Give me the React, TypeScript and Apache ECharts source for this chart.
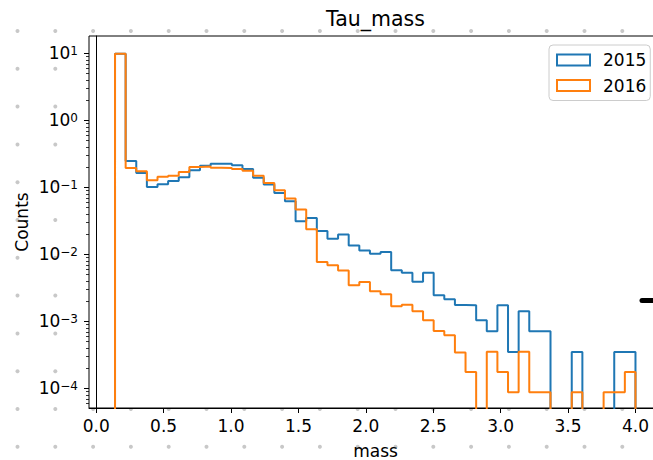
import React, { useEffect, useRef } from 'react';
import * as echarts from 'echarts';

// Histogram binning (shared by both years)
const BIN_MIN = 0.1396;
const BIN_MAX = 4.0;
const N_BINS = 49;

// Normalised counts per bin
const counts2015 = [
  9.8, 0.247, 0.164, 0.101, 0.111, 0.124, 0.141, 0.18, 0.21, 0.225,
  0.225, 0.213, 0.188, 0.139, 0.11, 0.082, 0.0618, 0.0311, 0.0349, 0.0223,
  0.0171, 0.0197, 0.0135, 0.0114, 0.0102, 0.0108, 0.0058, 0.0053, 0.0039, 0.0053,
  0.00244, 0.00213, 0.00175, 0.00173, 0.00104, 0.00071, 0.00173, 0.000347, 0.00141, 0.00071,
  0.00071, 0, 0, 0.000347, 0, 0, 0, 0.000347, 0.000347,
];
const counts2016 = [
  9.8, 0.194, 0.173, 0.127, 0.143, 0.148, 0.169, 0.201, 0.205, 0.195,
  0.194, 0.188, 0.177, 0.148, 0.116, 0.09, 0.0678, 0.0465, 0.0236, 0.00767,
  0.00685, 0.00571, 0.00344, 0.00386, 0.00281, 0.00253, 0.00167, 0.00177, 0.00141, 0.00104,
  0.000718, 0.000618, 0.000341, 0.000175, 0, 0.00035, 0.000175, 0.0000875, 0.00035, 0.0000875,
  0.0000875, 0, 0, 0.0000875, 0, 0, 0.0000875, 0.0000875, 0.000175,
];

const SERIES_NAMES = ['2015', '2016'];
const SERIES_COLORS = ['#1f77b4', '#ff7f0e'];

const X_TICKS = [0, 0.5, 1.0, 1.5, 2.0, 2.5, 3.0, 3.5, 4.0];
const Y_MAJOR_EXP = [-4, -3, -2, -1, 0, 1];
const Y_MINOR_MULT = [2, 3, 4, 5, 6, 7, 8, 9];

const X_MIN = -0.0534;
const X_MAX = 4.193;
const Y_MIN = 5.08e-5;
const Y_MAX = 18.1;
const FLOOR = 1e-9;

const FONT = 'DejaVu Sans';
const FS = 17;

function stepPath(counts: number[]) {
  const w = (BIN_MAX - BIN_MIN) / N_BINS;
  const pts: number[][] = [[BIN_MIN, FLOOR]];
  counts.forEach((c, i) => {
    const v = c > 0 ? c : FLOOR;
    pts.push([BIN_MIN + i * w, v]);
    pts.push([BIN_MIN + (i + 1) * w, v]);
  });
  pts.push([BIN_MAX, FLOOR]);
  return pts;
}

function yTickData() {
  const out: number[][] = [];
  Y_MAJOR_EXP.forEach((e) => out.push([X_MIN, Math.pow(10, e), 5]));
  for (let e = -5; e <= 1; e++) {
    Y_MINOR_MULT.forEach((m) => {
      const v = m * Math.pow(10, e);
      if (v >= Y_MIN && v <= Y_MAX) out.push([X_MIN, v, 3]);
    });
  }
  return out;
}

export default function App() {
  const ref = useRef<HTMLDivElement>(null);
  useEffect(() => {
    if (!ref.current) return;
    const chart = echarts.init(ref.current, undefined, { renderer: 'svg' });

    const dots: any[] = [];
    for (let i = 0; i < 18; i++) {
      for (let j = 0; j < 12; j++) {
        dots.push({
          type: 'circle', z: -10, silent: true,
          shape: { cx: 17.5 + 37.8 * i, cy: 31 + 37.8 * j, r: 2 },
          style: { fill: '#c8c8c8' },
        });
      }
    }

    const option: any = {
      animation: false,
      grid: {
        left: 89, top: 36, right: 18.5, bottom: 52,
        show: true, backgroundColor: '#ffffff', borderColor: '#000', borderWidth: 1,
        z: 0,
      },
      xAxis: {
        type: 'value', min: X_MIN, max: X_MAX, splitNumber: 8,
        splitLine: { show: false },
        axisLine: { show: true, lineStyle: { color: '#000', width: 1 } },
        axisTick: { show: true, length: 5, lineStyle: { color: '#000', width: 1 }, customValues: X_TICKS },
        axisLabel: {
          customValues: X_TICKS, formatter: (v: number) => v.toFixed(1),
          fontFamily: FONT, fontSize: FS, color: '#000', margin: 9,
        },
      },
      yAxis: {
        type: 'log', logBase: 10, min: Y_MIN, max: Y_MAX,
        splitLine: { show: false },
        axisLine: { show: true, lineStyle: { color: '#000', width: 1 } },
        axisTick: { show: false },
        axisLabel: {
          margin: 11,
          formatter: (v: number) => {
            const l = Math.log10(v);
            const e = Math.round(l);
            if (Math.abs(l - e) > 1e-6) return '';
            const s = e < 0 ? '\u2212' + -e : String(e);
            return `{b|10}{s|${s}}`;
          },
          rich: {
            b: { fontFamily: FONT, fontSize: FS, lineHeight: FS, color: '#000', verticalAlign: 'bottom' },
            s: { fontFamily: FONT, fontSize: 12, lineHeight: 12, color: '#000', verticalAlign: 'top', padding: [0, 0, 8, 0] },
          },
        },
      },
      legend: {
        orient: 'vertical', left: 549, top: 45,
        icon: 'rect', itemWidth: 33, itemHeight: 11, itemGap: 8.5,
        padding: [6.5, 4, 6.5, 7],
        backgroundColor: 'rgba(255,255,255,0.8)', borderColor: '#cccccc', borderWidth: 1, borderRadius: 4,
        textStyle: { fontFamily: FONT, fontSize: FS, color: '#000', padding: [0, 0, 0, 8] },
        data: SERIES_NAMES.map((n, i) => ({
          name: n,
          itemStyle: { color: 'rgba(0,0,0,0)', borderColor: SERIES_COLORS[i], borderWidth: 2 },
        })),
        z: 20,
      },
      series: [
        ...[counts2015, counts2016].map((c, i) => ({
          type: 'line', name: SERIES_NAMES[i], data: stepPath(c),
          showSymbol: false, symbol: 'none', clip: true, silent: true,
          lineStyle: { color: SERIES_COLORS[i], width: 2 },
          itemStyle: { color: SERIES_COLORS[i] },
          z: 3 + i,
        })),
        {
          type: 'custom', name: 'yticks', silent: true, clip: false, z: 6,
          data: yTickData(),
          encode: { x: 0, y: 1 },
          renderItem: (_p: any, api: any) => {
            const p = api.coord([api.value(0), api.value(1)]);
            const len = api.value(2);
            const y = Math.round(p[1]) + 0.5;
            return {
              type: 'line',
              shape: { x1: p[0] - len, y1: y, x2: p[0], y2: y },
              style: { stroke: '#000', lineWidth: len > 4 ? 1 : 0.8 },
            };
          },
        },
      ],
      graphic: {
        elements: [
          ...dots,
          {
            type: 'text', x: 375.5, y: 19, silent: true,
            style: { text: 'Tau_mass', fontFamily: FONT, fontSize: 20.5, fill: '#000', textAlign: 'center', textVerticalAlign: 'middle' },
          },
          {
            type: 'text', x: 375.5, y: 451, silent: true,
            style: { text: 'mass', fontFamily: FONT, fontSize: FS, fill: '#000', textAlign: 'center', textVerticalAlign: 'middle' },
          },
          {
            type: 'text', x: 21.5, y: 222, rotation: Math.PI / 2, silent: true,
            style: { text: 'Counts', fontFamily: FONT, fontSize: FS, fill: '#000', textAlign: 'center', textVerticalAlign: 'middle' },
          },
          {
            type: 'line', z: 30, silent: true,
            shape: { x1: 642, y1: 300.5, x2: 670, y2: 300.5 },
            style: { stroke: '#000', lineWidth: 5, lineCap: 'round' },
          },
        ],
      },
    };
    chart.setOption(option);
    return () => chart.dispose();
  }, []);

  return (
    <div style={{ position: 'absolute', left: 0, top: 0, width: 653, height: 460, overflow: 'hidden', background: '#fff' }}>
      <div ref={ref} style={{ width: 680, height: 460 }} />
    </div>
  );
}
